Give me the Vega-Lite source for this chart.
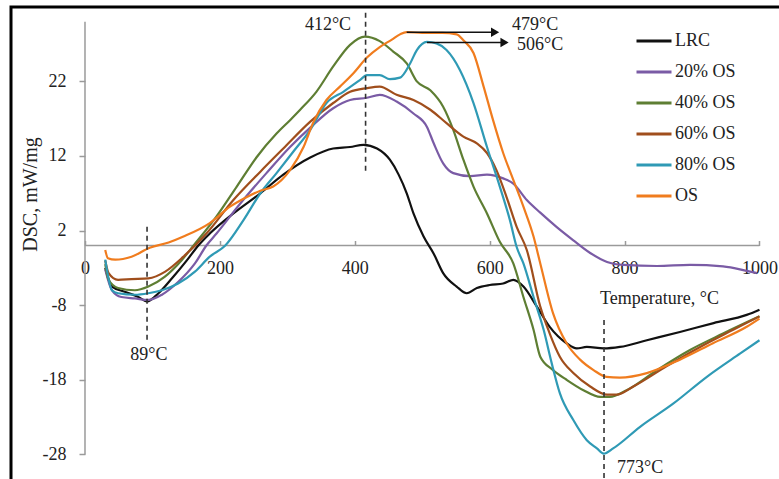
{
  "$schema": "https://vega.github.io/schema/vega-lite/v6.json",
  "width": 781,
  "height": 477,
  "autosize": {"type": "none"},
  "padding": {"left": 11, "top": 7, "right": -13, "bottom": -5},
  "background": "white",
  "config": {
    "view": {"stroke": "#000000", "strokeWidth": 3},
    "font": "Liberation Serif"
  },
  "datasets": {
    "dsc": [
      {"s":"LRC","t":30,"v":-3.0},{"s":"LRC","t":40,"v":-5.5},{"s":"LRC","t":59,"v":-6.2},{"s":"LRC","t":79,"v":-6.9},{"s":"LRC","t":92,"v":-7.5},{"s":"LRC","t":109,"v":-6.4},{"s":"LRC","t":129,"v":-4.4},{"s":"LRC","t":151,"v":-2.0},{"s":"LRC","t":168,"v":0},{"s":"LRC","t":185,"v":1.6},{"s":"LRC","t":220,"v":4.3},{"s":"LRC","t":260,"v":7.0},{"s":"LRC","t":294,"v":9.5},{"s":"LRC","t":334,"v":11.8},{"s":"LRC","t":368,"v":13.0},{"s":"LRC","t":393,"v":13.2},{"s":"LRC","t":413,"v":13.5},{"s":"LRC","t":433,"v":13.0},{"s":"LRC","t":452,"v":11.5},{"s":"LRC","t":465,"v":9.5},{"s":"LRC","t":477,"v":7.0},{"s":"LRC","t":487,"v":4.3},{"s":"LRC","t":502,"v":1.2},{"s":"LRC","t":517,"v":-1.1},{"s":"LRC","t":531,"v":-3.7},{"s":"LRC","t":551,"v":-5.5},{"s":"LRC","t":566,"v":-6.4},{"s":"LRC","t":581,"v":-5.7},{"s":"LRC","t":600,"v":-5.3},{"s":"LRC","t":620,"v":-5.1},{"s":"LRC","t":635,"v":-4.6},{"s":"LRC","t":650,"v":-5.5},{"s":"LRC","t":670,"v":-8.2},{"s":"LRC","t":689,"v":-10.9},{"s":"LRC","t":714,"v":-13.1},{"s":"LRC","t":729,"v":-13.8},{"s":"LRC","t":744,"v":-13.6},{"s":"LRC","t":769,"v":-13.8},{"s":"LRC","t":793,"v":-13.6},{"s":"LRC","t":833,"v":-12.7},{"s":"LRC","t":882,"v":-11.6},{"s":"LRC","t":932,"v":-10.4},{"s":"LRC","t":981,"v":-9.3},{"s":"LRC","t":1000,"v":-8.6},

      {"s":"20% OS","t":30,"v":-3.2},{"s":"20% OS","t":40,"v":-6.0},{"s":"20% OS","t":54,"v":-6.9},{"s":"20% OS","t":74,"v":-7.1},{"s":"20% OS","t":94,"v":-7.3},{"s":"20% OS","t":114,"v":-6.6},{"s":"20% OS","t":138,"v":-4.9},{"s":"20% OS","t":163,"v":-2.4},{"s":"20% OS","t":180,"v":0},{"s":"20% OS","t":195,"v":1.6},{"s":"20% OS","t":230,"v":5.6},{"s":"20% OS","t":269,"v":9.7},{"s":"20% OS","t":304,"v":13.2},{"s":"20% OS","t":334,"v":15.8},{"s":"20% OS","t":368,"v":18.4},{"s":"20% OS","t":393,"v":19.5},{"s":"20% OS","t":418,"v":19.8},{"s":"20% OS","t":437,"v":20.2},{"s":"20% OS","t":462,"v":19.3},{"s":"20% OS","t":487,"v":17.7},{"s":"20% OS","t":507,"v":15.9},{"s":"20% OS","t":517,"v":13.7},{"s":"20% OS","t":531,"v":11.0},{"s":"20% OS","t":546,"v":9.7},{"s":"20% OS","t":571,"v":9.3},{"s":"20% OS","t":596,"v":9.5},{"s":"20% OS","t":620,"v":9.0},{"s":"20% OS","t":635,"v":8.3},{"s":"20% OS","t":655,"v":6.1},{"s":"20% OS","t":675,"v":4.4},{"s":"20% OS","t":699,"v":2.5},{"s":"20% OS","t":724,"v":0.7},{"s":"20% OS","t":749,"v":-1.0},{"s":"20% OS","t":774,"v":-2.2},{"s":"20% OS","t":798,"v":-2.6},{"s":"20% OS","t":848,"v":-2.75},{"s":"20% OS","t":897,"v":-2.6},{"s":"20% OS","t":946,"v":-2.8},{"s":"20% OS","t":981,"v":-3.4},{"s":"20% OS","t":996,"v":-3.7},

      {"s":"40% OS","t":30,"v":-2.5},{"s":"40% OS","t":35,"v":-4.6},{"s":"40% OS","t":49,"v":-5.7},{"s":"40% OS","t":74,"v":-6.0},{"s":"40% OS","t":94,"v":-5.5},{"s":"40% OS","t":118,"v":-4.2},{"s":"40% OS","t":143,"v":-2.0},{"s":"40% OS","t":161,"v":0},{"s":"40% OS","t":195,"v":3.9},{"s":"40% OS","t":225,"v":7.9},{"s":"40% OS","t":255,"v":11.9},{"s":"40% OS","t":284,"v":15.0},{"s":"40% OS","t":304,"v":16.8},{"s":"40% OS","t":319,"v":18.2},{"s":"40% OS","t":343,"v":20.6},{"s":"40% OS","t":368,"v":24.0},{"s":"40% OS","t":393,"v":26.9},{"s":"40% OS","t":415,"v":28.0},{"s":"40% OS","t":437,"v":27.4},{"s":"40% OS","t":457,"v":26.0},{"s":"40% OS","t":477,"v":24.4},{"s":"40% OS","t":492,"v":22.0},{"s":"40% OS","t":512,"v":20.8},{"s":"40% OS","t":531,"v":18.6},{"s":"40% OS","t":546,"v":15.5},{"s":"40% OS","t":561,"v":11.5},{"s":"40% OS","t":576,"v":7.9},{"s":"40% OS","t":596,"v":4.3},{"s":"40% OS","t":615,"v":0.5},{"s":"40% OS","t":635,"v":-2.4},{"s":"40% OS","t":650,"v":-6.9},{"s":"40% OS","t":665,"v":-11.3},{"s":"40% OS","t":675,"v":-14.9},{"s":"40% OS","t":694,"v":-16.7},{"s":"40% OS","t":714,"v":-18.0},{"s":"40% OS","t":739,"v":-19.4},{"s":"40% OS","t":764,"v":-20.3},{"s":"40% OS","t":778,"v":-20.3},{"s":"40% OS","t":803,"v":-19.4},{"s":"40% OS","t":848,"v":-16.7},{"s":"40% OS","t":897,"v":-14.0},{"s":"40% OS","t":946,"v":-11.8},{"s":"40% OS","t":1000,"v":-9.5},

      {"s":"60% OS","t":30,"v":-2.0},{"s":"60% OS","t":35,"v":-3.7},{"s":"60% OS","t":49,"v":-4.6},{"s":"60% OS","t":69,"v":-4.5},{"s":"60% OS","t":94,"v":-4.4},{"s":"60% OS","t":119,"v":-3.5},{"s":"60% OS","t":146,"v":-1.5},{"s":"60% OS","t":180,"v":1.6},{"s":"60% OS","t":220,"v":6.1},{"s":"60% OS","t":260,"v":9.9},{"s":"60% OS","t":294,"v":13.0},{"s":"60% OS","t":334,"v":16.6},{"s":"60% OS","t":368,"v":19.1},{"s":"60% OS","t":393,"v":20.6},{"s":"60% OS","t":418,"v":21.1},{"s":"60% OS","t":437,"v":21.3},{"s":"60% OS","t":462,"v":20.2},{"s":"60% OS","t":487,"v":19.5},{"s":"60% OS","t":512,"v":18.2},{"s":"60% OS","t":536,"v":16.4},{"s":"60% OS","t":561,"v":14.6},{"s":"60% OS","t":581,"v":13.7},{"s":"60% OS","t":596,"v":12.4},{"s":"60% OS","t":610,"v":10.1},{"s":"60% OS","t":625,"v":6.5},{"s":"60% OS","t":640,"v":2.5},{"s":"60% OS","t":655,"v":-0.6},{"s":"60% OS","t":675,"v":-8.2},{"s":"60% OS","t":689,"v":-11.8},{"s":"60% OS","t":704,"v":-14.9},{"s":"60% OS","t":724,"v":-17.1},{"s":"60% OS","t":749,"v":-18.9},{"s":"60% OS","t":774,"v":-20.0},{"s":"60% OS","t":788,"v":-20.0},{"s":"60% OS","t":813,"v":-18.9},{"s":"60% OS","t":862,"v":-16.2},{"s":"60% OS","t":912,"v":-13.6},{"s":"60% OS","t":961,"v":-11.3},{"s":"60% OS","t":1000,"v":-9.5},

      {"s":"80% OS","t":30,"v":-1.9},{"s":"80% OS","t":40,"v":-6.0},{"s":"80% OS","t":49,"v":-6.4},{"s":"80% OS","t":74,"v":-6.6},{"s":"80% OS","t":94,"v":-6.4},{"s":"80% OS","t":114,"v":-6.0},{"s":"80% OS","t":138,"v":-5.1},{"s":"80% OS","t":163,"v":-3.5},{"s":"80% OS","t":185,"v":-1.5},{"s":"80% OS","t":208,"v":0},{"s":"80% OS","t":235,"v":3.4},{"s":"80% OS","t":260,"v":7.0},{"s":"80% OS","t":284,"v":9.7},{"s":"80% OS","t":309,"v":12.6},{"s":"80% OS","t":334,"v":15.5},{"s":"80% OS","t":358,"v":19.1},{"s":"80% OS","t":383,"v":20.6},{"s":"80% OS","t":408,"v":22.2},{"s":"80% OS","t":418,"v":22.85},{"s":"80% OS","t":437,"v":22.85},{"s":"80% OS","t":452,"v":22.3},{"s":"80% OS","t":467,"v":22.5},{"s":"80% OS","t":482,"v":24.4},{"s":"80% OS","t":492,"v":26.2},{"s":"80% OS","t":507,"v":27.3},{"s":"80% OS","t":521,"v":27.1},{"s":"80% OS","t":536,"v":26.2},{"s":"80% OS","t":556,"v":23.5},{"s":"80% OS","t":576,"v":19.1},{"s":"80% OS","t":596,"v":13.2},{"s":"80% OS","t":615,"v":7.9},{"s":"80% OS","t":630,"v":3.4},{"s":"80% OS","t":640,"v":-0.2},{"s":"80% OS","t":650,"v":-2.4},{"s":"80% OS","t":665,"v":-6.9},{"s":"80% OS","t":680,"v":-11.3},{"s":"80% OS","t":692,"v":-15.8},{"s":"80% OS","t":704,"v":-19.8},{"s":"80% OS","t":724,"v":-23.4},{"s":"80% OS","t":744,"v":-26.1},{"s":"80% OS","t":759,"v":-27.2},{"s":"80% OS","t":769,"v":-27.9},{"s":"80% OS","t":783,"v":-27.2},{"s":"80% OS","t":823,"v":-24.3},{"s":"80% OS","t":872,"v":-21.2},{"s":"80% OS","t":922,"v":-17.6},{"s":"80% OS","t":971,"v":-14.5},{"s":"80% OS","t":1000,"v":-12.7},

      {"s":"OS","t":30,"v":-0.6},{"s":"OS","t":34,"v":-1.7},{"s":"OS","t":45,"v":-1.9},{"s":"OS","t":69,"v":-1.5},{"s":"OS","t":96,"v":-0.3},{"s":"OS","t":124,"v":0.4},{"s":"OS","t":146,"v":1.2},{"s":"OS","t":185,"v":3.0},{"s":"OS","t":215,"v":5.2},{"s":"OS","t":240,"v":6.5},{"s":"OS","t":260,"v":7.35},{"s":"OS","t":279,"v":7.9},{"s":"OS","t":304,"v":10.1},{"s":"OS","t":324,"v":13.2},{"s":"OS","t":338,"v":16.4},{"s":"OS","t":358,"v":19.5},{"s":"OS","t":378,"v":21.3},{"s":"OS","t":398,"v":23.1},{"s":"OS","t":418,"v":25.2},{"s":"OS","t":437,"v":26.6},{"s":"OS","t":455,"v":27.6},{"s":"OS","t":467,"v":28.3},{"s":"OS","t":477,"v":28.6},{"s":"OS","t":500,"v":28.5},{"s":"OS","t":530,"v":28.5},{"s":"OS","t":551,"v":28.3},{"s":"OS","t":561,"v":27.5},{"s":"OS","t":576,"v":25.8},{"s":"OS","t":591,"v":21.3},{"s":"OS","t":605,"v":16.8},{"s":"OS","t":620,"v":12.4},{"s":"OS","t":635,"v":8.8},{"s":"OS","t":650,"v":5.2},{"s":"OS","t":665,"v":1.2},{"s":"OS","t":675,"v":-2.4},{"s":"OS","t":694,"v":-9.1},{"s":"OS","t":714,"v":-13.1},{"s":"OS","t":734,"v":-15.3},{"s":"OS","t":754,"v":-16.7},{"s":"OS","t":773,"v":-17.6},{"s":"OS","t":793,"v":-17.7},{"s":"OS","t":833,"v":-17.1},{"s":"OS","t":882,"v":-15.3},{"s":"OS","t":931,"v":-13.1},{"s":"OS","t":981,"v":-10.9},{"s":"OS","t":1000,"v":-9.8}
    ],
    "axislines": [
      {"t":0,"t2":0,"v":-28,"v2":30},
      {"t":0,"t2":1000,"v":0,"v2":0}
    ],
    "dashes": [
      {"t":92,"v":2.5,"v2":-12.7},
      {"t":416,"v":31.2,"v2":9.7},
      {"t":769.5,"v":-10,"v2":-31.9}
    ],
    "arrows": [
      {"t":477,"t2":606,"v":28.6},
      {"t":507,"t2":620,"v":27.2}
    ],
    "heads": [
      {"t":608,"v":28.6},
      {"t":622,"v":27.2}
    ],
    "notes": [
      {"t":326,"v":29.6,"label":"412°C"},
      {"t":67,"v":-14.7,"label":"89°C"},
      {"t":633,"v":29.6,"label":"479°C"},
      {"t":640.5,"v":26.9,"label":"506°C"},
      {"t":788.7,"v":-29.8,"label":"773°C"}
    ]
  },
  "layer": [
    {
      "data": {"name": "axislines"},
      "mark": {"type": "rule", "color": "#9a9a9a", "strokeWidth": 1.5},
      "encoding": {
        "x": {"field": "t", "type": "quantitative",
          "scale": {"domain": [-109.7, 1048.2], "nice": false, "zero": false},
          "title": "Temperature, °C",
          "axis": {"values": [0,200,400,600,800,1000], "domain": false, "grid": false, "offset": -238.5,
            "labelExpr": "'' + datum.value",
            "tickSize": -5, "tickColor": "#9a9a9a", "tickWidth": 1.5,
            "labelFont": "Liberation Serif", "labelFontSize": 18, "labelColor": "#222222", "labelPadding": 18.5,
            "labelFlush": false, "labelOverlap": false,
            "titleFont": "Liberation Serif", "titleFontSize": 18, "titleFontWeight": "normal", "titleColor": "#222222",
            "titleX": 648, "titleY": 52.5, "titleAlign": "center", "titleBaseline": "middle"}},
        "x2": {"field": "t2"},
        "y": {"field": "v", "type": "quantitative",
          "scale": {"domain": [-31.97, 31.97], "nice": false, "zero": false},
          "title": "DSC, mW/mg",
          "axis": {"values": [-28,-18,-8,2,12,22], "domain": false, "grid": false, "offset": -74,
            "labelExpr": "'' + datum.value",
            "tickSize": 6, "tickColor": "#9a9a9a", "tickWidth": 1.5,
            "labelFont": "Liberation Serif", "labelFontSize": 18, "labelColor": "#222222", "labelPadding": 13,
            "labelOverlap": false,
            "titleFont": "Liberation Serif", "titleFontSize": 20, "titleFontWeight": "normal", "titleColor": "#222222",
            "titleX": -55, "titleY": 187, "titleAngle": -90, "titleAlign": "center", "titleBaseline": "middle"}},
        "y2": {"field": "v2"}
      }
    },
    {
      "data": {"name": "dsc"},
      "mark": {"type": "line", "strokeWidth": 2.2, "interpolate": "monotone"},
      "encoding": {
        "x": {"field": "t", "type": "quantitative"},
        "y": {"field": "v", "type": "quantitative"},
        "color": {"field": "s", "type": "nominal",
          "scale": {"domain": ["LRC","20% OS","40% OS","60% OS","80% OS","OS"],
                    "range": ["#111111","#7a5ba5","#5e7e33","#a04e1c","#2f9ab5","#f07c1e"]},
          "legend": {"title": null, "orient": "none", "legendX": 624, "legendY": 15,
            "symbolType": "stroke", "symbolSize": 1225, "symbolStrokeWidth": 3,
            "labelFont": "Liberation Serif", "labelFontSize": 18, "labelColor": "#222222",
            "labelOffset": 2, "rowPadding": 3}}
      }
    },
    {
      "data": {"name": "dashes"},
      "mark": {"type": "rule", "color": "#333333", "strokeWidth": 1.6, "strokeDash": [5, 4]},
      "encoding": {
        "x": {"field": "t", "type": "quantitative"},
        "y": {"field": "v", "type": "quantitative"},
        "y2": {"field": "v2"}
      }
    },
    {
      "data": {"name": "arrows"},
      "mark": {"type": "rule", "color": "#111111", "strokeWidth": 1.5},
      "encoding": {
        "x": {"field": "t", "type": "quantitative"},
        "x2": {"field": "t2"},
        "y": {"field": "v", "type": "quantitative"}
      }
    },
    {
      "data": {"name": "heads"},
      "mark": {"type": "point", "shape": "triangle-right", "filled": true, "color": "#111111", "size": 90, "opacity": 1},
      "encoding": {
        "x": {"field": "t", "type": "quantitative"},
        "y": {"field": "v", "type": "quantitative"}
      }
    },
    {
      "data": {"name": "notes"},
      "mark": {"type": "text", "align": "left", "baseline": "middle", "font": "Liberation Serif", "fontSize": 18, "color": "#222222"},
      "encoding": {
        "x": {"field": "t", "type": "quantitative"},
        "y": {"field": "v", "type": "quantitative"},
        "text": {"field": "label"}
      }
    }
  ]
}
